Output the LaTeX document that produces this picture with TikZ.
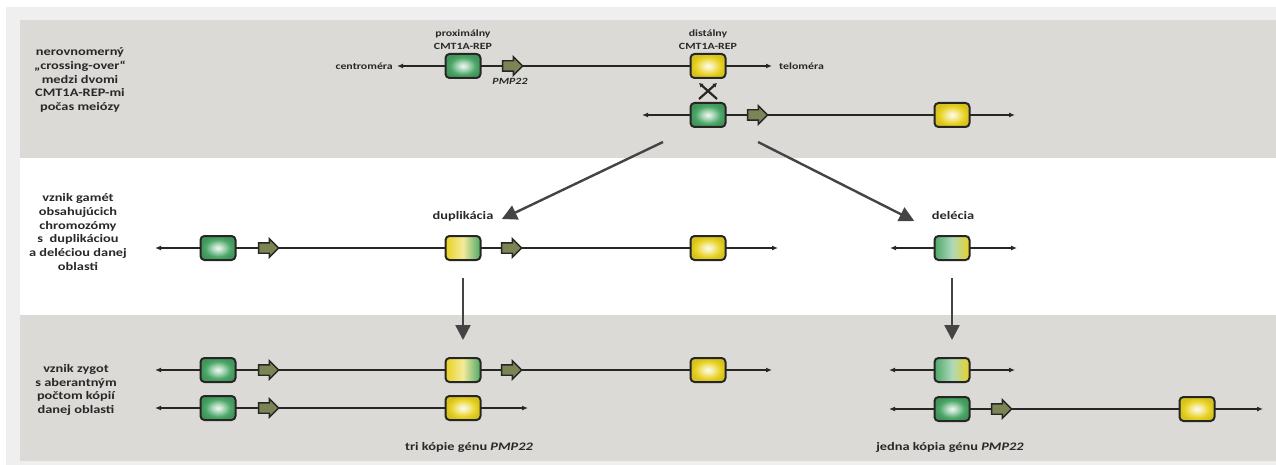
\documentclass[tikz,border=0pt]{standalone}
\usepackage{fontspec}
\setmainfont{Carlito}[FakeStretch=1.25]
\usepackage{tikz}
\usetikzlibrary{arrows.meta,calc,positioning,shapes.arrows}

\definecolor{panelgray}{RGB}{220,218,215}
\definecolor{framegray}{RGB}{239,239,239}
\definecolor{linecol}{RGB}{38,38,36}
\definecolor{greenrep}{RGB}{76,168,104}
\definecolor{yellowrep}{RGB}{232,210,34}
\definecolor{pmpcol}{RGB}{122,132,84}
\definecolor{txtcol}{RGB}{40,40,40}
\definecolor{flowcol}{RGB}{68,68,68}

% glowing repeat boxes
\pgfdeclareradialshading{greenglow}{\pgfpoint{0bp}{0bp}}{color(0bp)=(white!92!greenrep); color(7bp)=(greenrep!40!white); color(18bp)=(greenrep); color(25bp)=(greenrep!88!black); color(50bp)=(greenrep!88!black)}
\pgfdeclareradialshading{yellowglow}{\pgfpoint{0bp}{0bp}}{color(0bp)=(white!92!yellowrep); color(7bp)=(yellowrep!40!white); color(18bp)=(yellowrep); color(25bp)=(yellowrep!92!black); color(50bp)=(yellowrep!92!black)}

\tikzset{
  chrom/.style={draw=linecol, line width=1.8pt, {Latex[length=6pt,width=5pt]}-{Latex[length=6pt,width=5pt]}},
  rep/.style={draw=linecol, line width=2pt, rounded corners=4pt, minimum width=35pt, minimum height=24pt, inner sep=0pt},
  prox/.style={rep, shading=greenglow},
  dist/.style={rep, shading=yellowglow},
  dupl/.style={rep, left color=yellowrep, right color=greenrep, middle color=white!55!yellowrep},
  dele/.style={rep, left color=greenrep, right color=yellowrep, middle color=white!55!greenrep},
  gene/.style={single arrow, draw=linecol, fill=pmpcol, line width=1.4pt, inner sep=4.5pt, minimum height=20pt, minimum width=17pt, single arrow head extend=4pt},
  xover/.style={draw=linecol, line width=2.2pt, -{Latex[length=4pt,width=5pt]}},
  flow/.style={draw=flowcol, line width=2.4pt, -{Triangle[length=15pt,width=15pt]}},
  sidelbl/.style={font=\fontsize{11.5}{13.7}\selectfont\bfseries, text=txtcol, align=center},
  taglbl/.style={font=\fontsize{11.5}{13.7}\selectfont\bfseries, text=txtcol},
  replbl/.style={font=\fontsize{9.5}{13}\selectfont\bfseries, text=txtcol, align=center, inner sep=1pt},
}

\begin{document}
\begin{tikzpicture}[x=1pt,y=-1pt]
\useasboundingbox (0,0) rectangle (1276,465);

% Panels
\fill[white] (0,0) rectangle (1276,465);
\fill[framegray] (6,7) rectangle (1276,465);
\fill[panelgray] (20,20) rectangle (1276,158);
\fill[white] (20,158) rectangle (1276,315);
\fill[panelgray] (20,315) rectangle (1276,461);

% Row labels
\node[sidelbl] (meiosis) at (80,80) {nerovnomerný\\„crossing-over“\\medzi dvomi\\CMT1A-REP-mi\\počas meiózy};
\node[sidelbl] (gametes) at (78,232) {vznik gamét\\obsahujúcich\\chromozómy\\s~~duplikáciou\\a deléciou danej\\oblasti};
\node[sidelbl] (zygotes) at (76,390) {vznik zygot\\s aberantným\\počtom kópií\\danej oblasti};

% Meiosis: two misaligned chromosomes
\coordinate (cen1) at (397,66);  \coordinate (tel1) at (772,66);
\coordinate (cen2) at (642,115); \coordinate (tel2) at (1015,115);
\draw[chrom] (cen1) -- (tel1);
\draw[chrom] (cen2) -- (tel2);
\node[prox] (prox1) at (463,66) {};
\node[gene] (pmp1) at (510,66) {};
\node[dist] (dist1) at (708,66) {};
\node[prox] (prox2) at (708,115) {};
\node[gene] (pmp2) at (755,115) {};
\node[dist] (dist2) at (952,115) {};
\node[replbl, left=3pt of cen1] (cenlbl) {centroméra};
\node[replbl, right=6pt of tel1] (tellbl) {teloméra};
\node[replbl, above=2pt of prox1] (proxlbl) {proximálny\\CMT1A-REP};
\node[replbl, above=2pt of dist1] (distlbl) {distálny\\CMT1A-REP};
\node[replbl, below=5pt of pmp1] (pmplbl) {\itshape PMP22};

% Crossing-over
\draw[xover] ($(prox2.north)+(-9,-3)$) -- ($(dist1.south)+(9,4)$);
\draw[xover] ($(prox2.north)+(9,-3)$) -- ($(dist1.south)+(-9,4)$);

% Gametes
\coordinate (splitL) at (663,142);
\coordinate (splitR) at (758,142);
\node[taglbl] (duplbl) at (463,216) {duplikácia};
\node[taglbl] (dellbl) at (953,216) {delécia};
\draw[flow] (splitL) -- ([xshift=5pt,yshift=-3pt]duplbl.east);
\draw[flow] (splitR) -- ([xshift=-14pt,yshift=-5pt]dellbl.west);

\coordinate (cen3) at (155,248); \coordinate (tel3) at (778,248);
\coordinate (cen4) at (890,248); \coordinate (tel4) at (1017,248);
\draw[chrom] (cen3) -- (tel3);
\draw[chrom] (cen4) -- (tel4);
\node[prox] (prox3) at (218,248) {};
\node[gene] (pmp3) at (266,248) {};
\node[dupl] (dup3) at (463,248) {};
\node[gene] (pmp3b) at (509,248) {};
\node[dist] (dist3) at (708,248) {};
\node[dele] (del4) at (952,248) {};

% Zygotes
\coordinate (cen5) at (155,370); \coordinate (tel5) at (772,370);
\coordinate (cen6) at (155,408); \coordinate (tel6) at (528,408);
\coordinate (cen7) at (889,370); \coordinate (tel7) at (1015,370);
\coordinate (cen8) at (889,409); \coordinate (tel8) at (1263,409);
\foreach \n in {5,...,8}
  \draw[chrom] (cen\n) -- (tel\n);
\node[prox] (prox5) at (218,370) {};
\node[gene] (pmp5) at (266,370) {};
\node[dupl] (dup5) at (463,370) {};
\node[gene] (pmp5b) at (509,370) {};
\node[dist] (dist5) at (708,370) {};
\node[prox] (prox6) at (218,408) {};
\node[gene] (pmp6) at (266,408) {};
\node[dist] (dist6) at (463,408) {};
\node[dele] (del7) at (952,370) {};
\node[prox] (prox8) at (952,409) {};
\node[gene] (pmp8) at (999,409) {};
\node[dist] (dist8) at (1197,409) {};

\draw[flow] ([yshift=-17pt]dup3.south) -- ([yshift=17pt]dup5.north);
\draw[flow] ([yshift=-17pt]del4.south) -- ([yshift=17pt]del7.north);

\node[taglbl] (trilbl) at (469,447) {tri kópie génu \textit{PMP22}};
\node[taglbl] (jednalbl) at (950,447) {jedna kópia génu \textit{PMP22}};
\end{tikzpicture}
\end{document}
